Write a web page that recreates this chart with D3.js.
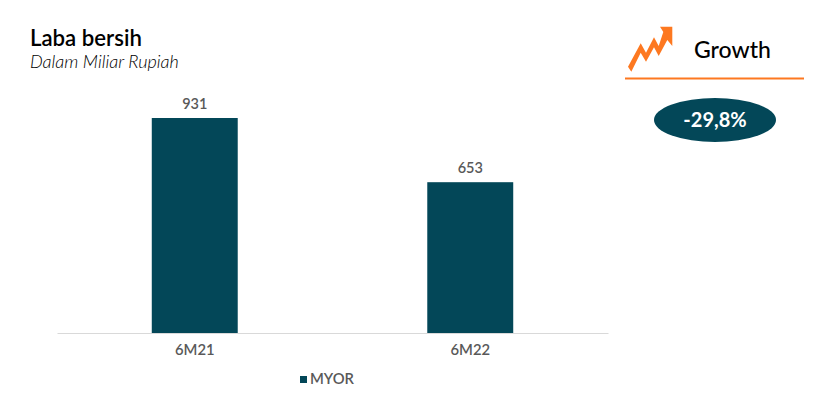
<!DOCTYPE html>
<html>
<head>
  <meta charset="utf-8">
  <title>Laba bersih</title>
  <script src="https://cdn.jsdelivr.net/npm/d3@7/dist/d3.min.js"></script>
  <style>
  html, body {
    margin: 0;
    padding: 0;
    background: #fff;
  }
  svg {
    display: block;
    font-family: "Lato";
  }
  </style>
</head>
<body>
<svg id="chart"></svg>

<script>
const WIDTH = 819
const HEIGHT = 409

const categories = ["6M21", "6M22"]
const values = [931, 653]
const seriesName = "MYOR"
const growthLabel = "-29,8%"

const DARK_TEAL = "#034758"
const ORANGE = "#fd7820"
const GREY_TEXT = "#595959"

const svg = d3.select("#chart")
  .attr("width", WIDTH)
  .attr("height", HEIGHT)

// plot area
const xScale = d3.scaleBand()
  .domain(categories)
  .range([57, 608])
  .paddingInner(0.688)
  .paddingOuter(0.344)

const yScale = d3.scaleLinear()
  .domain([0, 931])
  .range([333, 118])

svg.selectAll("rect.bar")
  .data(values)
  .enter()
  .append("rect")
  .attr("class", "bar")
  .attr("x", (d, i) => xScale(categories[i]))
  .attr("y", d => yScale(d))
  .attr("width", xScale.bandwidth())
  .attr("height", d => yScale(0) - yScale(d))
  .attr("fill", DARK_TEAL)

svg.selectAll("text.value")
  .data(values)
  .enter()
  .append("text")
  .attr("class", "value")
  .attr("x", (d, i) => xScale(categories[i]) + xScale.bandwidth() / 2)
  .attr("y", d => yScale(d) - 9)
  .attr("text-anchor", "middle")
  .attr("font-size", 14.5)
  .attr("font-weight", 600)
  .attr("fill", GREY_TEXT)
  .text(d => d)

let xAxis = d3.axisBottom(xScale).tickSize(0).tickPadding(11)

let xAxisGroup = svg.append("g")
  .attr("transform", `translate(0, 333)`)
  .call(xAxis)

xAxisGroup.select(".domain").attr("stroke", "#d9d9d9").attr("stroke-width", 1)
xAxisGroup.selectAll("text")
  .attr("font-family", "Lato")
  .attr("font-size", 14.8)
  .attr("font-weight", 600)
  .attr("fill", GREY_TEXT)

// legend
svg.append("rect")
  .attr("x", 300).attr("y", 376)
  .attr("width", 7).attr("height", 7)
  .attr("fill", DARK_TEAL)

svg.append("text")
  .attr("x", 310).attr("y", 384)
  .attr("font-size", 14.8)
  .attr("font-weight", 600)
  .attr("fill", GREY_TEXT)
  .text(seriesName)

// title
svg.append("text")
  .attr("x", 30).attr("y", 46)
  .attr("font-size", 22.2)
  .attr("font-weight", 600)
  .attr("fill", "#000")
  .text("Laba bersih")

svg.append("text")
  .attr("x", 30).attr("y", 68)
  .attr("font-size", 18)
  .attr("font-style", "italic")
  .attr("font-weight", 300)
  .attr("fill", "#000")
  .text("Dalam Miliar Rupiah")

// growth panel
svg.append("polygon")
  .attr("points", "628,66.7 640.7,43.3 646,52.7 654,37.3 658.7,46 663.3,32 660,26.7 672.3,26.7 672.3,46 667.3,40 658.7,56 654,47.3 646,61.7 640.7,52.7 631.3,71.7")
  .attr("fill", ORANGE)

svg.append("text")
  .attr("x", 694).attr("y", 58)
  .attr("font-size", 23)
  .attr("font-weight", 500)
  .attr("fill", "#000")
  .text("Growth")

svg.append("line")
  .attr("x1", 625).attr("x2", 804)
  .attr("y1", 78.5).attr("y2", 78.5)
  .attr("stroke", ORANGE)
  .attr("stroke-width", 2)

svg.append("ellipse")
  .attr("cx", 715).attr("cy", 120)
  .attr("rx", 61).attr("ry", 22)
  .attr("fill", DARK_TEAL)

svg.append("text")
  .attr("x", 715).attr("y", 127)
  .attr("text-anchor", "middle")
  .attr("font-size", 20)
  .attr("font-weight", 700)
  .attr("fill", "#fff")
  .text(growthLabel)
</script>
</body>
</html>
